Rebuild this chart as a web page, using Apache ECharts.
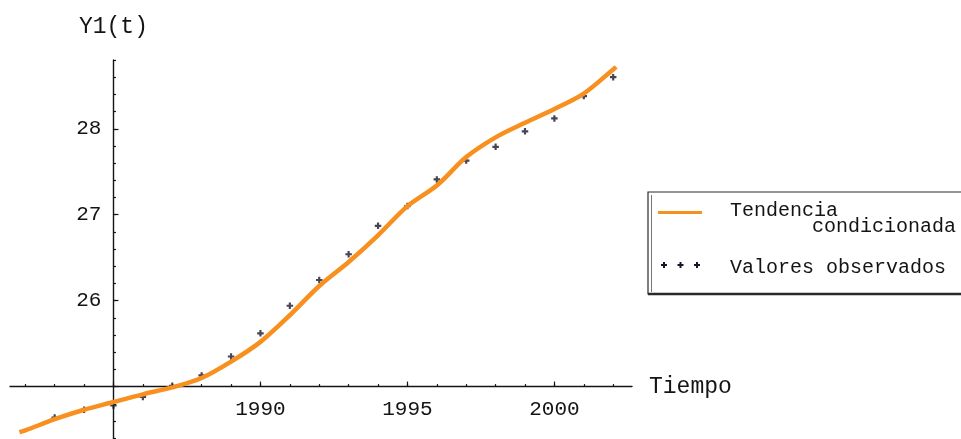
<!DOCTYPE html>
<html>
<head>
<meta charset="utf-8">
<script src="https://cdn.jsdelivr.net/npm/echarts@6/dist/echarts.min.js"></script>
<style>
  html, body { margin: 0; padding: 0; background: #ffffff; }
  #chart { width: 961px; height: 439px; }
</style>
</head>
<body>
<div id="chart"></div>
<script>
// Observed values Y1(t), one per year
const obsYears = [1983, 1984, 1985, 1986, 1987, 1988, 1989, 1990, 1991, 1992,
                  1993, 1994, 1995, 1996, 1997, 1998, 1999, 2000, 2001, 2002];
const obsValues = [24.64, 24.73, 24.78, 24.88, 25.01, 25.13, 25.35, 25.62, 25.94, 26.24,
                   26.54, 26.87, 27.10, 27.41, 27.63, 27.79, 27.97, 28.12, 28.38, 28.60];

// Conditioned trend curve
const trendTimes = [1981.8, 1982, 1983, 1984, 1985, 1986, 1987, 1988, 1989, 1990, 1991,
                    1992, 1993, 1994, 1995, 1996, 1997, 1998, 1999, 2000, 2001, 2002, 2002.1];
const trendValues = [24.47, 24.49, 24.62, 24.73, 24.82, 24.91, 24.99, 25.10, 25.29, 25.52, 25.83,
                     26.17, 26.45, 26.76, 27.10, 27.34, 27.67, 27.90, 28.07, 28.23, 28.41, 28.69, 28.72];

// Axis ticks and labels
const xMajorTicks = [1985, 1990, 1995, 2000];
const xLabels = [1990, 1995, 2000];
const xMinorTicks = [1982, 1983, 1984, 1985, 1986, 1987, 1988, 1989, 1990, 1991, 1992,
                     1993, 1994, 1995, 1996, 1997, 1998, 1999, 2000, 2001, 2002];
const yMajorTicks = [25, 26, 27, 28];
const yLabels = [26, 27, 28];
const yMinorTicks = [24.4, 24.6, 24.8, 25.0, 25.2, 25.4, 25.6, 25.8, 26.0, 26.2, 26.4, 26.6,
                     26.8, 27.0, 27.2, 27.4, 27.6, 27.8, 28.0, 28.2, 28.4, 28.6, 28.8];

// Where the two axes cross
const originX = 1985;
const originY = 25;

const X_MIN = 1981.48, X_MAX = 2002.64;
const Y_MIN = 24.39, Y_MAX = 28.80;

const FONT = 'Liberation Mono, DejaVu Sans Mono, monospace';
const INK = '#141414';
const MARK = '#16162a';
const ORANGE = '#f8901f';
const PLUS = 'path://M2,0H4V2H6V4H4V6H2V4H0V2H2Z';

const gridRect = { left: 10, top: 60, width: 622, height: 379, containLabel: false, outerBoundsMode: 'none' };

const plain = v => String(v);

function xAxisDef(grid, ticks, len, labels, withName) {
  return {
    type: 'value', gridIndex: grid, min: X_MIN, max: X_MAX, position: 'bottom',
    axisLine: { show: grid === 0, lineStyle: { color: INK, width: 1.4 } },
    axisTick: { show: true, inside: true, length: len, customValues: ticks,
                lineStyle: { color: INK, width: 1.2 } },
    axisLabel: labels ? { show: true, customValues: labels, margin: 12, formatter: plain,
                          fontFamily: FONT, fontSize: 21, color: INK } : { show: false },
    splitLine: { show: false },
    name: withName ? 'Tiempo' : '',
    nameLocation: 'end', nameGap: 17,
    nameTextStyle: { fontFamily: FONT, fontSize: 23, color: INK, align: 'left', verticalAlign: 'middle' }
  };
}

function yAxisDef(grid, ticks, len, labels, withName) {
  return {
    type: 'value', gridIndex: grid, min: Y_MIN, max: Y_MAX, position: 'left',
    axisLine: { show: grid === 0, lineStyle: { color: INK, width: 1.4 } },
    axisTick: { show: true, inside: true, length: len, customValues: ticks,
                lineStyle: { color: INK, width: 1.2 } },
    axisLabel: labels ? { show: true, customValues: labels, margin: 12, formatter: plain,
                          fontFamily: FONT, fontSize: 21, color: INK } : { show: false },
    splitLine: { show: false },
    name: withName ? 'Y1(t)' : '',
    nameLocation: 'end', nameGap: 22,
    nameTextStyle: { fontFamily: FONT, fontSize: 23, color: INK, align: 'center' }
  };
}

const chart = echarts.init(document.getElementById('chart'), null, { renderer: 'canvas' });

const option = {
  animation: false,
  backgroundColor: '#ffffff',
  grid: [
    Object.assign({}, gridRect),
    Object.assign({}, gridRect)
  ],
  xAxis: [
    xAxisDef(0, xMajorTicks, 5, xLabels, true),
    xAxisDef(1, xMinorTicks, 2.5, null, false)
  ],
  yAxis: [
    yAxisDef(0, yMajorTicks, 5, yLabels, true),
    yAxisDef(1, yMinorTicks, 2.5, null, false)
  ],
  series: [
    {
      name: 'Valores observados',
      type: 'scatter',
      xAxisIndex: 0, yAxisIndex: 0,
      data: obsYears.map((t, i) => [t, obsValues[i]]),
      symbol: PLUS,
      symbolSize: 6.5,
      itemStyle: { color: MARK },
      z: 2
    },
    {
      name: 'Tendencia condicionada',
      type: 'line',
      xAxisIndex: 0, yAxisIndex: 0,
      data: trendTimes.map((t, i) => [t, trendValues[i]]),
      smooth: 0.3,
      showSymbol: false,
      clip: false,
      lineStyle: { color: ORANGE, width: 4.5 },
      z: 3
    }
  ]
};

chart.setOption(option);

// Move both axes so they cross at (originX, originY)
const origin = chart.convertToPixel({ gridIndex: 0 }, [originX, originY]);
const gridBottom = gridRect.top + gridRect.height;
const xOff = origin[1] - gridBottom;
const yOff = gridRect.left - origin[0];
chart.setOption({
  xAxis: [{ offset: xOff }, { offset: xOff }],
  yAxis: [{ offset: yOff }, { offset: yOff }]
});

// Legend box
const LX = 648, LY = 192, LW = 340, LH = 102;
function plusMark(cx, cy) {
  return {
    type: 'polygon', z: 11,
    shape: { points: [[cx - 1, cy - 3], [cx + 1, cy - 3], [cx + 1, cy - 1], [cx + 3, cy - 1],
                      [cx + 3, cy + 1], [cx + 1, cy + 1], [cx + 1, cy + 3], [cx - 1, cy + 3],
                      [cx - 1, cy + 1], [cx - 3, cy + 1], [cx - 3, cy - 1], [cx - 1, cy - 1]] },
    style: { fill: MARK }
  };
}
chart.setOption({
  graphic: [
    { type: 'rect', shape: { x: LX, y: LY, width: LW, height: LH },
      style: { fill: '#ffffff', stroke: '#2a2a2a', lineWidth: 1.2 }, z: 10 },
    { type: 'line', shape: { x1: LX, y1: LY + LH, x2: LX + LW, y2: LY + LH },
      style: { stroke: '#2a2a2a', lineWidth: 2.5 }, z: 11 },
    { type: 'line', shape: { x1: LX + 3.5, y1: LY + 3, x2: LX + 3.5, y2: LY + LH - 2 },
      style: { stroke: '#777777', lineWidth: 1 }, z: 11 },
    { type: 'line', shape: { x1: 658, y1: 212.5, x2: 702, y2: 212.5 },
      style: { stroke: ORANGE, lineWidth: 3 }, z: 11 },
    { type: 'text', x: 730, y: 211, z: 11,
      style: { text: 'Tendencia', font: '20px ' + FONT, fill: INK, verticalAlign: 'middle' } },
    { type: 'text', x: 812, y: 227, z: 11,
      style: { text: 'condicionada', font: '20px ' + FONT, fill: INK, verticalAlign: 'middle' } },
    plusMark(664, 265),
    plusMark(680.5, 265),
    plusMark(697, 265),
    { type: 'text', x: 730, y: 268, z: 11,
      style: { text: 'Valores observados', font: '20px ' + FONT, fill: INK, verticalAlign: 'middle' } }
  ]
});
</script>
</body>
</html>
